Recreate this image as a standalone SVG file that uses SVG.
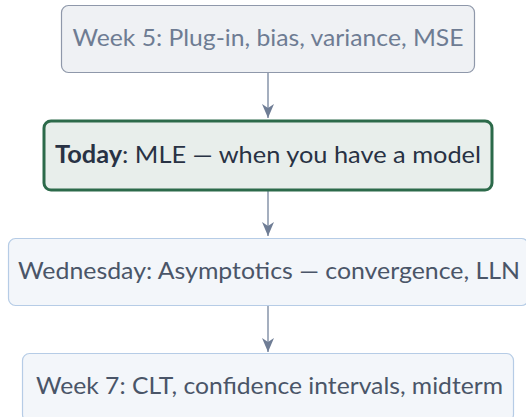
<svg xmlns="http://www.w3.org/2000/svg" width="526" height="417" viewBox="0 0 526 417">
<style>
.t{font-family:Lato,"Noto Sans","Liberation Sans",sans-serif;font-size:24px;text-anchor:middle}
.past rect{fill:#eff1f4;stroke:#8f98aa;stroke-width:1.2}
.past text{fill:#6e7c93}
.now rect{fill:#e8eeeb;stroke:#2c6a4a;stroke-width:3}
.now text{fill:#283244}
.next rect{fill:#f3f6fa;stroke:#b6cce6;stroke-width:1.2}
.next text{fill:#4a5568}
.edge{stroke:#a5afbf;stroke-width:2;fill:none}
</style>
<defs>
<marker id="ah" markerWidth="15" markerHeight="12" refX="14" refY="6" orient="auto" markerUnits="userSpaceOnUse" viewBox="0 0 15 12">
<path d="M0,0 L14,6 L0,12 L4,6 Z" fill="#6f7d95"/>
</marker>
</defs>
<g id="connectors">
<line class="edge" x1="268" y1="73" x2="268" y2="118" marker-end="url(#ah)"/>
<line class="edge" x1="268" y1="191" x2="268" y2="236" marker-end="url(#ah)"/>
<line class="edge" x1="268" y1="306" x2="268" y2="352" marker-end="url(#ah)"/>
</g>
<g id="week5" class="past">
<rect x="61.5" y="5.5" width="413" height="67" rx="7"/>
<text class="t" x="268" y="46" textLength="391" lengthAdjust="spacingAndGlyphs">Week 5: Plug-in, bias, variance, MSE</text>
</g>
<g id="today" class="now">
<rect x="44" y="121" width="448" height="69" rx="7"/>
<text class="t" x="268" y="163" textLength="426" lengthAdjust="spacingAndGlyphs"><tspan font-weight="bold">Today</tspan>: MLE — when you have a model</text>
</g>
<g id="wednesday" class="next">
<rect x="8.5" y="238.5" width="520" height="67" rx="7"/>
<text class="t" x="269" y="279" textLength="502" lengthAdjust="spacingAndGlyphs">Wednesday: Asymptotics — convergence, LLN</text>
</g>
<g id="week7" class="next">
<rect x="22.5" y="353.5" width="491" height="68" rx="7"/>
<text class="t" x="269.5" y="394" textLength="467" lengthAdjust="spacingAndGlyphs">Week 7: CLT, confidence intervals, midterm</text>
</g>
</svg>
